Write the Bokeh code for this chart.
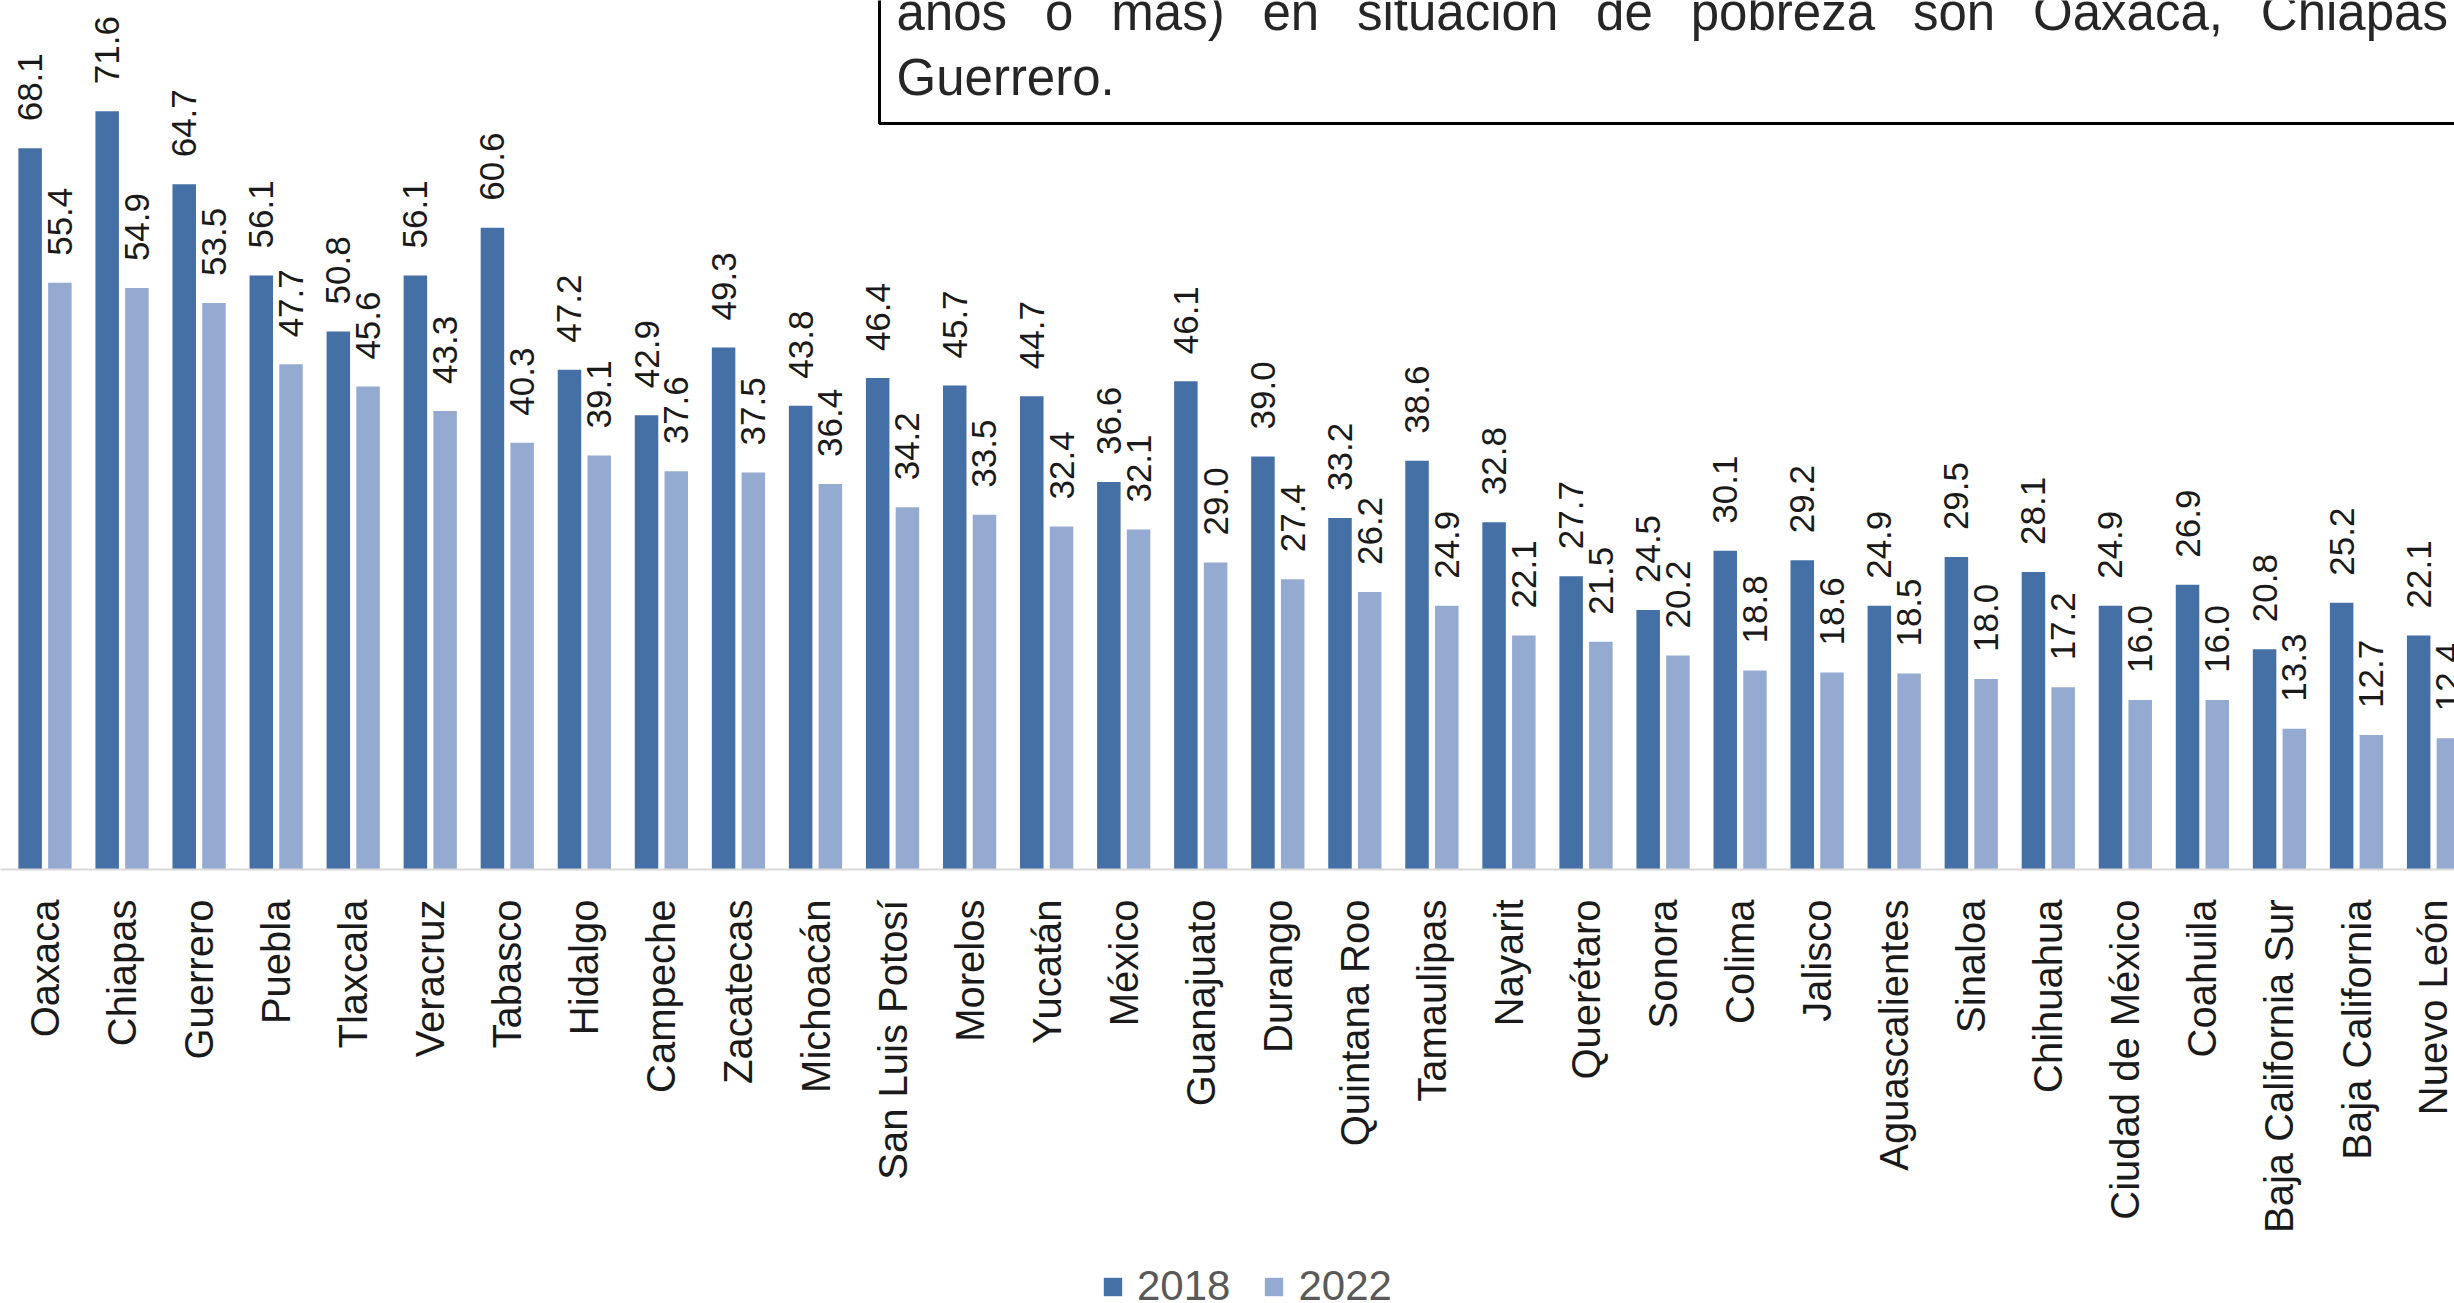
import math
from bokeh.plotting import figure
from bokeh.layouts import column
from bokeh.models import (Range1d, FixedTicker, ColumnDataSource, Legend,
                          LegendItem, Label, BoxAnnotation)
from bokeh.embed import file_html
from bokeh.resources import INLINE
from bokeh.core.properties import value

# ---------------- data ----------------
states = ["Oaxaca", "Chiapas", "Guerrero", "Puebla", "Tlaxcala", "Veracruz",
          "Tabasco", "Hidalgo", "Campeche", "Zacatecas", "Michoacán",
          "San Luis Potosí", "Morelos", "Yucatán", "México", "Guanajuato",
          "Durango", "Quintana Roo", "Tamaulipas", "Nayarit", "Querétaro",
          "Sonora", "Colima", "Jalisco", "Aguascalientes", "Sinaloa",
          "Chihuahua", "Ciudad de México", "Coahuila", "Baja California Sur",
          "Baja California", "Nuevo León"]
v2018 = [68.1, 71.6, 64.7, 56.1, 50.8, 56.1, 60.6, 47.2, 42.9, 49.3, 43.8,
         46.4, 45.7, 44.7, 36.6, 46.1, 39.0, 33.2, 38.6, 32.8, 27.7, 24.5,
         30.1, 29.2, 24.9, 29.5, 28.1, 24.9, 26.9, 20.8, 25.2, 22.1]
v2022 = [55.4, 54.9, 53.5, 47.7, 45.6, 43.3, 40.3, 39.1, 37.6, 37.5, 36.4,
         34.2, 33.5, 32.4, 32.1, 29.0, 27.4, 26.2, 24.9, 22.1, 21.5, 20.2,
         18.8, 18.6, 18.5, 18.0, 17.2, 16.0, 16.0, 13.3, 12.7, 12.4]
series_names = ["2018", "2022"]

box_line1 = ["años", "o", "más)", "en", "situación", "de", "pobreza", "son",
             "Oaxaca,", "Chiapas"]
box_line2 = ["Guerrero."]

# ---------------- geometry ----------------
FONT = "Liberation Sans"
C2018 = "#4470A6"
C2022 = "#95AAD1"
PX_X = 77.05            # pixels per category
PX_Y = 10.59            # pixels per percentage point
W = 2454
FRAME_H = 869
MAIN_H = 1255
LEG_H = 1303 - MAIN_H
X_START = -44.5 / PX_X
X_END = X_START + W / PX_X
Y_END = FRAME_H / PX_Y
OFF = 0.193
BW = 0.305
LABEL_SHIFT = 20        # Label anchor correction (px)


def dx(px):   # page x -> data x
    return X_START + px / PX_X


def dy(py):   # page y -> data y
    return (FRAME_H - py) / PX_Y


idx = list(range(len(states)))
src = ColumnDataSource(dict(
    x18=[i - OFF for i in idx], x22=[i + OFF for i in idx],
    v18=v2018, v22=v2022,
    t18=[f"{v:.1f}" for v in v2018], t22=[f"{v:.1f}" for v in v2022],
))

p = figure(width=W, height=MAIN_H,
           x_range=Range1d(X_START, X_END), y_range=Range1d(0, Y_END),
           output_backend="svg", toolbar_location=None,
           y_axis_location=None, min_border=0,
           min_border_bottom=MAIN_H - FRAME_H,
           background_fill_color="white", border_fill_color="white")
p.outline_line_color = None
p.xgrid.visible = False
p.ygrid.visible = False

r18 = p.vbar(x="x18", top="v18", width=BW, source=src, fill_color=C2018,
             line_color=None)
r22 = p.vbar(x="x22", top="v22", width=BW, source=src, fill_color=C2022,
             line_color=None)

for xs, ys, ts in (("x18", "v18", "t18"), ("x22", "v22", "t22")):
    p.text(x=xs, y=ys, text=ts, source=src, angle=math.pi / 2,
           y_offset=-27, text_align="left", text_baseline="middle",
           text_font=value(FONT), text_font_size="35px",
           text_color="#1a1a1a")

ax = p.xaxis[0]
ax.ticker = FixedTicker(ticks=idx)
ax.major_label_overrides = {i: s for i, s in zip(idx, states)}
ax.major_label_orientation = math.pi / 2
ax.major_label_standoff = 30
ax.major_tick_out = 0
ax.major_tick_in = 0
ax.minor_tick_out = 0
ax.minor_tick_in = 0
ax.axis_line_color = "#d9d9d9"
ax.axis_line_width = 2
ax.major_label_text_font = FONT
ax.major_label_text_font_size = "40px"
ax.major_label_text_color = "#1a1a1a"

# ---------------- text box (top right, partly cropped) ----------------
box = BoxAnnotation(left=dx(879), right=dx(2700), top=dy(-60), bottom=dy(123),
                    fill_alpha=0, line_color="#000000", line_alpha=1,
                    line_width=3)
p.add_layout(box)

word_x = [896, 1044.5, 1110.8, 1262, 1356.5, 1595.6, 1690.2, 1912.4, 2032.5,
          2260.3]
for w, xp in zip(box_line1, word_x):
    p.add_layout(Label(x=dx(xp), y=dy(32 - LABEL_SHIFT), text=w,
                       text_font=FONT, text_font_size="51px",
                       text_color="#262626", text_baseline="alphabetic",
                       text_align="left"))
p.add_layout(Label(x=dx(896), y=dy(97 - LABEL_SHIFT), text=box_line2[0],
                   text_font=FONT, text_font_size="51px",
                   text_color="#262626", text_baseline="alphabetic",
                   text_align="left"))

# ---------------- legend strip ----------------
pl = figure(width=W, height=LEG_H, x_range=Range1d(0, 1),
            y_range=Range1d(0, 1), output_backend="svg",
            toolbar_location=None, x_axis_location=None,
            y_axis_location=None, min_border=0, min_border_top=14,
            background_fill_color="white", border_fill_color="white")
pl.outline_line_color = None
pl.xgrid.visible = False
pl.ygrid.visible = False
# zero-area placeholders that only carry the legend swatches
l18 = pl.vbar(x=[0.5], top=[0], width=0, fill_color=C2018, line_color=None)
l22 = pl.vbar(x=[0.5], top=[0], width=0, fill_color=C2022, line_color=None)
legend = Legend(items=[LegendItem(label=series_names[0], renderers=[l18]),
                       LegendItem(label=series_names[1], renderers=[l22])],
                orientation="horizontal", location="center_left",
                glyph_width=23, glyph_height=23, label_standoff=13,
                label_height=23, spacing=32, padding=0, margin=1101,
                label_text_font=FONT, label_text_font_size="42px",
                label_text_color="#595959", border_line_color=None,
                background_fill_alpha=0)
pl.add_layout(legend, "center")

open("out.html", "w").write(file_html(column(p, pl, spacing=0), INLINE))
